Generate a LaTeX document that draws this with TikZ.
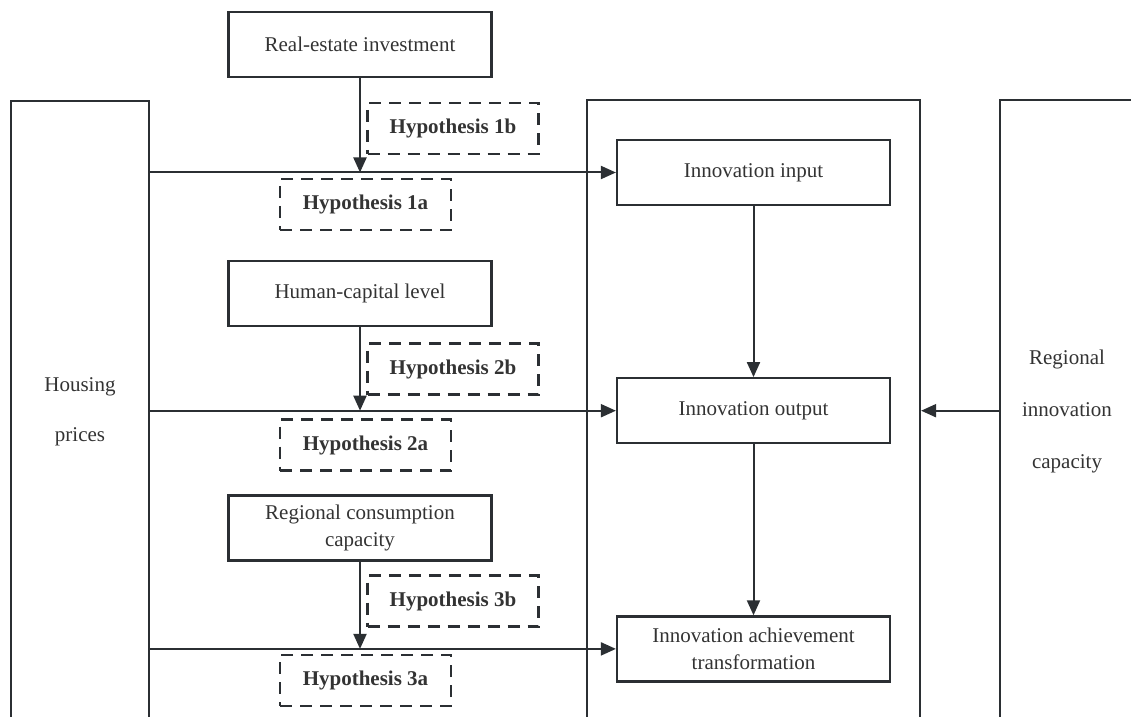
\documentclass[tikz,border=0pt]{standalone}
\usepackage{fontspec}
\setmainfont{Liberation Serif}
\usepackage{tikz}
\usetikzlibrary{positioning,arrows.meta}
\definecolor{linegray}{HTML}{2B2F33}
\definecolor{textgray}{HTML}{333333}

\begin{document}
\begin{tikzpicture}[x=0.5pt,y=-0.5pt,
		color=linegray, text=textgray, line width=1.1pt,
		font=\fontsize{10.5}{13.5}\selectfont,
		box/.style={draw, minimum width=131.5pt, minimum height=32.5pt, align=center},
		stage/.style={draw, minimum width=136.5pt, minimum height=32.5pt, align=center},
		hypo/.style={draw, dash pattern=on 6pt off 4pt, font=\fontsize{10.5}{13.5}\selectfont\bfseries,
		minimum width=85.5pt, minimum height=25.5pt},
		panel/.style={draw, minimum height=311pt, align=center},
		flow/.style={-{Triangle[length=7.5pt,width=6.5pt]}, line width=1pt}]
		\useasboundingbox (0,0) rectangle (1131,717);
		\clip (0,0) rectangle (1131,717);
		% outer frames, cut at the lower edge
		\node[panel, minimum width=69pt, font=\fontsize{10.5}{25}\selectfont] (housing) at (80,412) {Housing\\prices};
		\node[panel, minimum width=166.5pt] (frame) at (753.5,411) {};
		\node[panel, minimum width=67pt, font=\fontsize{10.5}{26}\selectfont] (regional) at (1067,411)
			{Regional\\innovation\\capacity};
		% innovation chain
		\node[stage] (input) at (753.5,172.5) {Innovation input};
		\node[stage, below=85.5pt of input] (output) {Innovation output};
		\node[stage, below=85.5pt of output] (result) {Innovation achievement\\transformation};
		% mechanisms
		\node[box] (estate) at (360,44.5) {Real-estate investment};
		\node[box] (human) at (360,293.5) {Human-capital level};
		\node[box] (consume) at (360,528) {Regional consumption\\capacity};
		\node[hypo] (h1b) at (453,128.5) {Hypothesis 1b};
		\node[hypo] (h1a) at (365.5,204.5) {Hypothesis 1a};
		\node[hypo] (h2b) at (453,369) {Hypothesis 2b};
		\node[hypo] (h2a) at (365.5,445) {Hypothesis 2a};
		\node[hypo] (h3b) at (453,601) {Hypothesis 3b};
		\node[hypo] (h3a) at (365.5,680.5) {Hypothesis 3a};
		\foreach \src/\dst in {estate/input, human/output, consume/result} {
			\coordinate (j-\src) at (\src.south |- \dst.west);
			\draw[flow] (housing.east |- \dst.west) -- (\dst.west);
			\draw[flow] (\src.south) -- (j-\src);
		}
		\draw[flow] (input) -- (output);
		\draw[flow] (output) -- (result);
		\draw[flow] (regional.west |- output) -- (frame.east |- output);
	\end{tikzpicture}
\end{document}
